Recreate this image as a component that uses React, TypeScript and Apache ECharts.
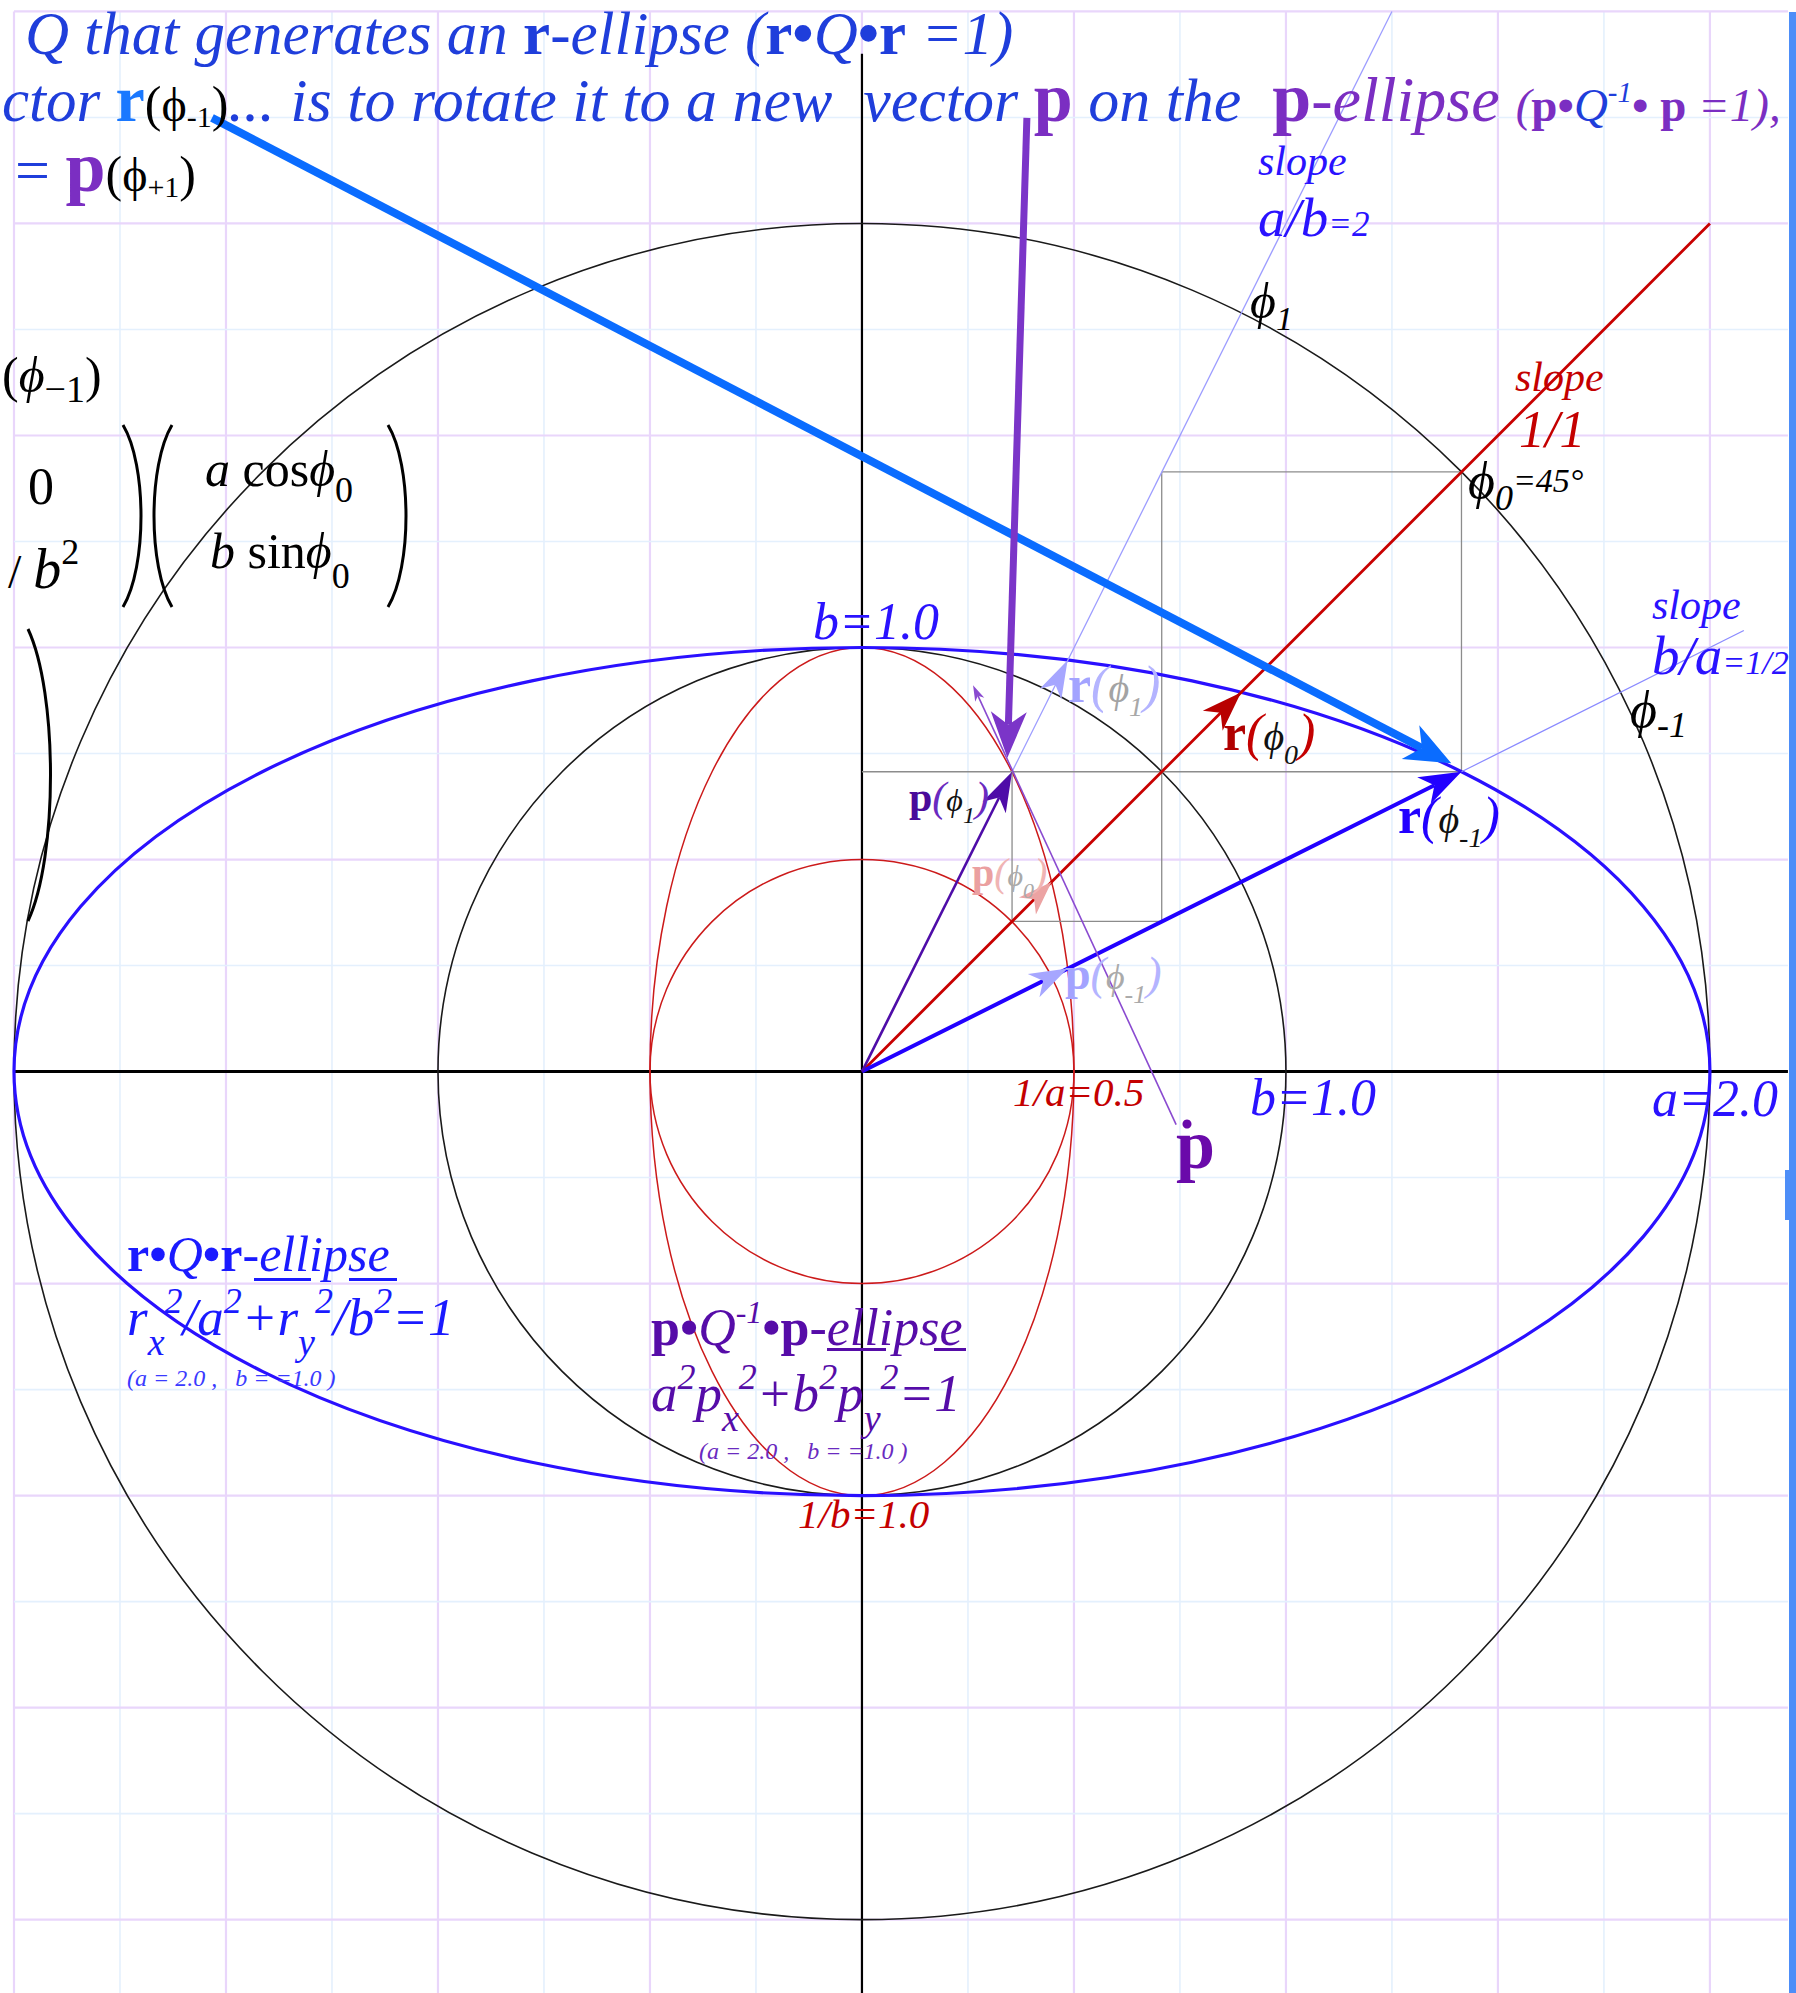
import React, { useEffect, useRef } from 'react';
import * as echarts from 'echarts';

const W = 1796;
const H = 1993;
// data window in diagram units (origin at the centre of the ellipses)
const X_MIN = -2.033;
const X_MAX = 2.203;
const Y_MIN = -2.173;
const Y_MAX = 2.527;

// ellipse parameters
const A = 2.0;
const B = 1.0;

// grid ticks (0.25 units)
const GRID_X = [-2, -1.75, -1.5, -1.25, -1, -0.75, -0.5, -0.25, 0, 0.25, 0.5, 0.75, 1, 1.25, 1.5, 1.75, 2];
const GRID_Y = [2.5, 2.25, 2, 1.75, 1.5, 1.25, 1, 0.75, 0.5, 0.25, 0, -0.25, -0.5, -0.75, -1, -1.25, -1.5, -1.75, -2];
const GRID_TOP = 2.5;
const GRID_RIGHT = 2.184;
const AXIS_TOP = 2.4;

// curves: [cx, cy, rx, ry]
const BLACK_CIRCLES = [[0, 0, 2, 2], [0, 0, 1, 1]];
const RED_CIRCLE = [[0, 0, 0.5, 0.5]];
const P_ELLIPSE = [[0, 0, 1 / A, 1 / B]];
const R_ELLIPSE = [[0, 0, A, B]];

// vector tips
const R_M1 = [1.414, 0.707];
const R_0 = [0.894, 0.894];
const R_1 = [0.485, 0.97];
const P_1 = [0.354, 0.707];
const P_0 = [0.447, 0.447];
const P_M1 = [0.485, 0.243];

// segments: [x0, y0, x1, y1]
const AXIS_H = [[-2, 0, GRID_RIGHT, 0]];
const AXIS_V = [[0, AXIS_TOP, 0, Y_MIN]];
const GRAY_SEGS = [
  [0.707, 1.414, 1.414, 1.414],
  [1.414, 1.414, 1.414, 0.707],
  [0, 0.707, 1.414, 0.707],
  [0.707, 1.414, 0.707, 0.354],
  [0.354, 0.707, 0.354, 0.354],
  [0.354, 0.354, 0.707, 0.354],
];
const SLOPE_1 = [[0, 0, 2, 2]];
const SLOPE_2 = [[P_1[0], P_1[1], 1.25, 2.5]];
const SLOPE_HALF = [[R_M1[0], R_M1[1], 2.08, 1.04]];
const VEC_R_M1 = [[0, 0, R_M1[0], R_M1[1]]];
const VEC_P_1 = [[0, 0, P_1[0], P_1[1]]];
const HEAD_R_0 = [[0, 0, R_0[0], R_0[1]]];
const HEAD_R_1 = [[0, 0, R_1[0], R_1[1]]];
const HEAD_P_0 = [[0, 0, P_0[0], P_0[1]]];
const HEAD_P_M1 = [[0, 0, P_M1[0], P_M1[1]]];
const PDOT = [[0.741, -0.125, 0.262, 0.911]];
const NOTE_BLUE = [[-1.533, 2.249, 1.39, 0.727]];
const NOTE_PURPLE = [[0.389, 2.249, 0.343, 0.74]];

const FF = "'Liberation Serif', 'Times New Roman', 'DejaVu Serif', serif";

function gridSeries(id: string, vals: number[], vertical: boolean) {
  return {
    type: 'custom',
    id,
    coordinateSystem: 'cartesian2d',
    silent: true,
    z: 1,
    data: vals.map((v) => [v, 0]),
    encode: { x: 0, y: 1 },
    renderItem: (_p: any, api: any) => {
      const v = api.value(0);
      const major = Math.abs(v * 2 - Math.round(v * 2)) < 1e-6;
      const a = vertical ? api.coord([v, GRID_TOP]) : api.coord([-2, v]);
      const b = vertical ? api.coord([v, Y_MIN]) : api.coord([GRID_RIGHT, v]);
      return {
        type: 'line',
        shape: { x1: a[0], y1: a[1], x2: b[0], y2: b[1] },
        style: { stroke: major ? '#e9d6fb' : '#e4f0fd', lineWidth: major ? 2.2 : 1.6 },
      };
    },
  };
}

function ellipseSeries(id: string, data: number[][], color: string, width: number, z = 2) {
  return {
    type: 'custom',
    id,
    coordinateSystem: 'cartesian2d',
    silent: true,
    z,
    data,
    encode: { x: 0, y: 1 },
    renderItem: (_p: any, api: any) => {
      const c = api.coord([api.value(0), api.value(1)]);
      const s = api.size([api.value(2), api.value(3)], [api.value(0), api.value(1)]);
      return {
        type: 'ellipse',
        shape: { cx: c[0], cy: c[1], rx: s[0], ry: s[1] },
        style: { fill: 'none', stroke: color, lineWidth: width },
      };
    },
  };
}

type SegStyle = { color: string; width: number; head?: [number, number]; headColor?: string; z?: number };

function segSeries(id: string, data: number[][], st: SegStyle) {
  return {
    type: 'custom',
    id,
    coordinateSystem: 'cartesian2d',
    silent: true,
    z: st.z ?? 3,
    data,
    encode: { x: [0, 2], y: [1, 3] },
    renderItem: (_p: any, api: any) => {
      const p0 = api.coord([api.value(0), api.value(1)]);
      const p1 = api.coord([api.value(2), api.value(3)]);
      const children: any[] = [];
      let end = p1;
      if (st.head) {
        const dx = p1[0] - p0[0];
        const dy = p1[1] - p0[1];
        const len = Math.hypot(dx, dy) || 1;
        const ux = dx / len;
        const uy = dy / len;
        const nx = -uy;
        const ny = ux;
        const L = st.head[0];
        const hw = st.head[1];
        const bx = p1[0] - ux * L;
        const by = p1[1] - uy * L;
        const notch = [p1[0] - ux * L * 0.72, p1[1] - uy * L * 0.72];
        children.push({
          type: 'polygon',
          shape: { points: [p1, [bx + nx * hw, by + ny * hw], notch, [bx - nx * hw, by - ny * hw]] },
          style: { fill: st.headColor || st.color },
        });
        end = notch;
      }
      if (st.width > 0) {
        children.unshift({
          type: 'line',
          shape: { x1: p0[0], y1: p0[1], x2: end[0], y2: end[1] },
          style: { stroke: st.color, lineWidth: st.width },
        });
      }
      return { type: 'group', children };
    },
  };
}

type Tok = { t: string; s: number; c: string; f?: string; dy?: number };

function rt(x: number, baseY: number, toks: Tok[]) {
  const K = 0.84;
  let B0 = 0;
  toks.forEach((k) => {
    B0 = Math.max(B0, K * k.s - (k.dy || 0));
  });
  const rich: any = {};
  let text = '';
  toks.forEach((k, i) => {
    const pad = B0 + (k.dy || 0) - K * k.s;
    rich['t' + i] = {
      fontSize: k.s,
      lineHeight: k.s,
      fontFamily: FF,
      fontStyle: k.f && k.f.includes('i') ? 'italic' : 'normal',
      fontWeight: k.f && k.f.includes('b') ? 'bold' : 'normal',
      fill: k.c,
      verticalAlign: 'top',
      padding: [pad, 0, 0, 0],
    };
    text += '{t' + i + '|' + k.t + '}';
  });
  return {
    type: 'text',
    x,
    y: baseY - B0,
    z: 50,
    silent: true,
    style: { text, rich, align: 'left', verticalAlign: 'top', fontFamily: FF },
  };
}

const TB = '#1f3edb'; // title blue
const LB = '#1a78ff'; // light bold blue
const PU = '#7b2ec2'; // purple
const BL = '#2a12ff'; // label blue
const RD = '#c40000'; // red
const IN = '#560ca8'; // indigo
const K0 = '#000000';

function paren(x1: number, y1: number, y2: number, bulge: number) {
  const h = y2 - y1;
  return {
    type: 'bezierCurve',
    z: 50,
    silent: true,
    shape: { x1, y1, x2: x1, y2, cpx1: x1 + bulge, cpy1: y1 + h * 0.22, cpx2: x1 + bulge, cpy2: y2 - h * 0.22 },
    style: { stroke: '#000', lineWidth: 3, fill: 'none' },
  };
}

function underline(x1: number, x2: number, y: number, color: string) {
  return { type: 'rect', z: 50, silent: true, shape: { x: x1, y, width: x2 - x1, height: 3 }, style: { fill: color } };
}

function buildTexts() {
  const ph = (s: number, c: string) => ({ t: 'ϕ', s, c, f: 'i' });
  return [
    // title lines
    rt(25, 54, [
      { t: 'Q that generates an ', s: 61, c: TB, f: 'i' },
      { t: 'r', s: 61, c: TB, f: 'b' },
      { t: '-ellipse (', s: 61, c: TB, f: 'i' },
      { t: 'r•', s: 61, c: TB, f: 'b' },
      { t: 'Q', s: 61, c: TB, f: 'i' },
      { t: '•r', s: 61, c: TB, f: 'b' },
      { t: ' =1)', s: 61, c: TB, f: 'i' },
    ]),
    rt(2, 121, [
      { t: 'ctor ', s: 61, c: TB, f: 'i' },
      { t: 'r', s: 66, c: LB, f: 'b' },
      { t: '(', s: 50, c: K0 },
      { t: 'ϕ', s: 48, c: K0 },
      { t: '-1', s: 30, c: K0, dy: 6 },
      { t: ')', s: 50, c: K0 },
      { t: '... is to rotate it to a new  vector ', s: 62, c: TB, f: 'i' },
      { t: 'p', s: 70, c: PU, f: 'b' },
      { t: ' on the  ', s: 62, c: TB, f: 'i' },
      { t: 'p', s: 70, c: PU, f: 'b' },
      { t: '-ellipse ', s: 64, c: PU, f: 'i' },
      { t: '(', s: 47, c: PU, f: 'i' },
      { t: 'p•', s: 47, c: PU, f: 'b' },
      { t: 'Q', s: 47, c: TB, f: 'i' },
      { t: '-1', s: 29, c: TB, f: 'i', dy: -19 },
      { t: '• p', s: 47, c: PU, f: 'b' },
      { t: ' =1),', s: 47, c: PU, f: 'i' },
    ]),
    rt(15, 191, [
      { t: '= ', s: 62, c: TB },
      { t: 'p', s: 72, c: PU, f: 'b' },
      { t: '(', s: 50, c: K0 },
      { t: 'ϕ', s: 48, c: K0 },
      { t: '+1', s: 30, c: K0, dy: 6 },
      { t: ')', s: 50, c: K0 },
    ]),
    // matrix fragments
    rt(2, 392, [
      { t: '(', s: 50, c: K0 },
      ph(50, K0),
      { t: '−1', s: 38, c: K0, dy: 10 },
      { t: ')', s: 50, c: K0 },
    ]),
    rt(28, 504, [{ t: '0', s: 52, c: K0 }]),
    rt(8, 588, [
      { t: '/ ', s: 48, c: K0 },
      { t: 'b', s: 56, c: K0, f: 'i' },
      { t: '2', s: 36, c: K0, dy: -24 },
    ]),
    rt(205, 486, [
      { t: 'a', s: 50, c: K0, f: 'i' },
      { t: ' cos', s: 50, c: K0 },
      ph(50, K0),
      { t: '0', s: 36, c: K0, dy: 16 },
    ]),
    rt(210, 568, [
      { t: 'b', s: 50, c: K0, f: 'i' },
      { t: ' sin', s: 50, c: K0 },
      ph(50, K0),
      { t: '0', s: 36, c: K0, dy: 20 },
    ]),
    paren(123, 425, 607, 24),
    paren(172, 425, 607, -24),
    paren(388, 425, 607, 24),
    paren(28, 629, 921, 30),
    // axis labels
    rt(813, 639, [{ t: 'b=1.0', s: 52, c: BL, f: 'i' }]),
    rt(1250, 1115, [{ t: 'b=1.0', s: 52, c: BL, f: 'i' }]),
    rt(1652, 1116, [{ t: 'a=2.0', s: 52, c: BL, f: 'i' }]),
    rt(1013, 1106, [{ t: '1/a=0.5', s: 41, c: RD, f: 'i' }]),
    rt(798, 1528, [{ t: '1/b=1.0', s: 41, c: RD, f: 'i' }]),
    rt(1176, 1168, [{ t: 'p', s: 70, c: '#6a0aaa', f: 'b' }]),
    { type: 'circle', z: 50, silent: true, shape: { cx: 1187, cy: 1124, r: 4.5 }, style: { fill: '#6a0aaa' } },
    // slope labels
    rt(1258, 175, [{ t: 'slope', s: 42, c: BL, f: 'i' }]),
    rt(1258, 236, [
      { t: 'a/b', s: 55, c: BL, f: 'i' },
      { t: '=2', s: 35, c: BL, f: 'i' },
    ]),
    rt(1250, 318, [ph(50, K0), { t: '1', s: 34, c: K0, f: 'i', dy: 12 }]),
    rt(1515, 391, [{ t: 'slope', s: 42, c: RD, f: 'i' }]),
    rt(1519, 447, [{ t: '1/1', s: 52, c: RD, f: 'i' }]),
    rt(1468, 498, [
      ph(52, K0),
      { t: '0', s: 36, c: K0, f: 'i', dy: 12 },
      { t: '=45°', s: 34, c: K0, f: 'i', dy: -6 },
    ]),
    rt(1652, 619, [{ t: 'slope', s: 42, c: BL, f: 'i' }]),
    rt(1652, 674, [
      { t: 'b/a', s: 55, c: BL, f: 'i' },
      { t: '=1/2', s: 34, c: BL, f: 'i' },
    ]),
    rt(1630, 727, [ph(52, K0), { t: '-1', s: 36, c: K0, f: 'i', dy: 10 }]),
    // vector labels
    rt(1068, 702, [
      { t: 'r', s: 52, c: '#a3a3ff', f: 'b' },
      { t: '(', s: 52, c: '#b4b4ff', f: 'i' },
      ph(40, '#a3a3a3'),
      { t: '1', s: 28, c: '#a8a8a8', f: 'i', dy: 14 },
      { t: ')', s: 52, c: '#b4b4ff', f: 'i' },
    ]),
    rt(1223, 750, [
      { t: 'r', s: 52, c: '#b00000', f: 'b' },
      { t: '(', s: 52, c: RD, f: 'i' },
      ph(40, '#111'),
      { t: '0', s: 28, c: '#111', f: 'i', dy: 14 },
      { t: ')', s: 52, c: RD, f: 'i' },
    ]),
    rt(1398, 833, [
      { t: 'r', s: 52, c: '#2200ff', f: 'b' },
      { t: '(', s: 52, c: '#2200ff', f: 'i' },
      ph(40, '#111'),
      { t: '-1', s: 28, c: '#111', f: 'i', dy: 14 },
      { t: ')', s: 52, c: '#2200ff', f: 'i' },
    ]),
    rt(909, 811, [
      { t: 'p', s: 42, c: '#4a0a9a', f: 'b' },
      { t: '(', s: 42, c: '#6a2ac0', f: 'i' },
      ph(32, '#111'),
      { t: '1', s: 24, c: '#111', f: 'i', dy: 12 },
      { t: ')', s: 42, c: '#6a2ac0', f: 'i' },
    ]),
    rt(972, 886, [
      { t: 'p', s: 40, c: '#eba0a0', f: 'b' },
      { t: '(', s: 40, c: '#f0b4b4', f: 'i' },
      ph(30, '#aaaaaa'),
      { t: '0', s: 22, c: '#aaaaaa', f: 'i', dy: 12 },
      { t: ')', s: 40, c: '#f0b4b4', f: 'i' },
    ]),
    rt(1065, 989, [
      { t: 'p', s: 46, c: '#a3a3ff', f: 'b' },
      { t: '(', s: 46, c: '#b4b4ff', f: 'i' },
      ph(36, '#aaaaaa'),
      { t: '-1', s: 26, c: '#aaaaaa', f: 'i', dy: 14 },
      { t: ')', s: 46, c: '#b4b4ff', f: 'i' },
    ]),
    // ellipse equations
    rt(127, 1271, [
      { t: 'r•', s: 50, c: '#1a1aff', f: 'b' },
      { t: 'Q', s: 50, c: '#1a1aff', f: 'i' },
      { t: '•r', s: 50, c: '#1a1aff', f: 'b' },
      { t: '-', s: 50, c: '#1a1aff' },
      { t: 'ellipse', s: 50, c: '#1a1aff', f: 'i' },
    ]),
    rt(127, 1335, [
      { t: 'r', s: 53, c: '#1a1aff', f: 'i' },
      { t: 'x', s: 38, c: '#1a1aff', f: 'i', dy: 20 },
      { t: '2', s: 36, c: '#1a1aff', f: 'i', dy: -22 },
      { t: '/a', s: 53, c: '#1a1aff', f: 'i' },
      { t: '2', s: 36, c: '#1a1aff', f: 'i', dy: -22 },
      { t: '+r', s: 53, c: '#1a1aff', f: 'i' },
      { t: 'y', s: 38, c: '#1a1aff', f: 'i', dy: 20 },
      { t: '2', s: 36, c: '#1a1aff', f: 'i', dy: -22 },
      { t: '/b', s: 53, c: '#1a1aff', f: 'i' },
      { t: '2', s: 36, c: '#1a1aff', f: 'i', dy: -22 },
      { t: '=1', s: 53, c: '#1a1aff', f: 'i' },
    ]),
    rt(127, 1386, [{ t: '(a = 2.0 ,   b = =1.0 )', s: 24, c: '#3a3aff', f: 'i' }]),
    underline(254, 311, 1278, '#1a1aff'),
    underline(349, 397, 1278, '#1a1aff'),
    rt(651, 1345, [
      { t: 'p•', s: 52, c: IN, f: 'b' },
      { t: 'Q', s: 52, c: IN, f: 'i' },
      { t: '-1', s: 32, c: IN, f: 'i', dy: -22 },
      { t: '•p', s: 52, c: IN, f: 'b' },
      { t: '-', s: 52, c: IN },
      { t: 'ellipse', s: 52, c: IN, f: 'i' },
    ]),
    rt(651, 1411, [
      { t: 'a', s: 53, c: IN, f: 'i' },
      { t: '2', s: 36, c: IN, f: 'i', dy: -22 },
      { t: 'p', s: 53, c: IN, f: 'i' },
      { t: 'x', s: 38, c: IN, f: 'i', dy: 20 },
      { t: '2', s: 36, c: IN, f: 'i', dy: -22 },
      { t: '+b', s: 53, c: IN, f: 'i' },
      { t: '2', s: 36, c: IN, f: 'i', dy: -22 },
      { t: 'p', s: 53, c: IN, f: 'i' },
      { t: 'y', s: 38, c: IN, f: 'i', dy: 20 },
      { t: '2', s: 36, c: IN, f: 'i', dy: -22 },
      { t: '=1', s: 53, c: IN, f: 'i' },
    ]),
    rt(699, 1459, [{ t: '(a = 2.0 ,   b = =1.0 )', s: 24, c: '#6a2ac0', f: 'i' }]),
    underline(827, 886, 1348, IN),
    underline(934, 966, 1348, IN),
    // right border bar
    { type: 'rect', z: 50, silent: true, shape: { x: 1789, y: 12, width: 7, height: H - 12 }, style: { fill: '#4d8ef8' } },
    { type: 'rect', z: 50, silent: true, shape: { x: 1785, y: 1170, width: 4, height: 50 }, style: { fill: '#4d8ef8' } },
  ];
}

export default function App() {
  const ref = useRef<HTMLDivElement>(null);
  useEffect(() => {
    if (!ref.current) return;
    const chart = echarts.init(ref.current, null, { renderer: 'svg', width: W, height: H });
    const option: any = {
      animation: false,
      backgroundColor: '#ffffff',
      grid: { left: 0, right: 0, top: 0, bottom: 0, containLabel: false },
      xAxis: { type: 'value', min: X_MIN, max: X_MAX, show: false },
      yAxis: { type: 'value', min: Y_MIN, max: Y_MAX, show: false },
      series: [
        gridSeries('gridV', GRID_X, true),
        gridSeries('gridH', GRID_Y, false),
        segSeries('axisH', AXIS_H, { color: '#000', width: 3, z: 2 }),
        segSeries('axisV', AXIS_V, { color: '#000', width: 2.2, z: 2 }),
        ellipseSeries('circles', BLACK_CIRCLES, '#1a1a1a', 1.6),
        ellipseSeries('redCircle', RED_CIRCLE, '#cc1a1a', 1.5),
        ellipseSeries('pEllipse', P_ELLIPSE, '#cc1a1a', 1.5),
        ellipseSeries('rEllipse', R_ELLIPSE, '#2a10ff', 3.2, 3),
        segSeries('gray', GRAY_SEGS, { color: '#8c8c8c', width: 1.3, z: 2 }),
        segSeries('slope2', SLOPE_2, { color: '#9c9cff', width: 1.3 }),
        segSeries('slopeHalf', SLOPE_HALF, { color: '#8a8aff', width: 1.2 }),
        segSeries('slope1', SLOPE_1, { color: '#c80000', width: 2.8 }),
        segSeries('headR0', HEAD_R_0, { color: '#b80000', width: 0, head: [40, 14] }),
        segSeries('vecRm1', VEC_R_M1, { color: '#2200ff', width: 4, head: [42, 15] }),
        segSeries('vecP1', VEC_P_1, { color: '#4e0ca8', width: 2.6, head: [40, 13] }),
        segSeries('headR1', HEAD_R_1, { color: '#a6a6ff', width: 0, head: [38, 12] }),
        segSeries('headP0', HEAD_P_0, { color: '#eca3a3', width: 0, head: [34, 12] }),
        segSeries('headPm1', HEAD_P_M1, { color: '#a6a6ff', width: 0, head: [38, 13] }),
        segSeries('pdot', PDOT, { color: '#8a4ad0', width: 1.6, head: [16, 5] }),
        segSeries('noteBlue', NOTE_BLUE, { color: '#0a6cff', width: 8, head: [46, 19], z: 4 }),
        segSeries('notePurple', NOTE_PURPLE, { color: '#7b35c8', width: 7, head: [46, 18], z: 4 }),
      ],
      graphic: { elements: buildTexts() },
    };
    chart.setOption(option);
    return () => chart.dispose();
  }, []);
  return <div ref={ref} style={{ position: 'absolute', left: 0, top: 0, width: W, height: H, background: '#fff' }} />;
}
